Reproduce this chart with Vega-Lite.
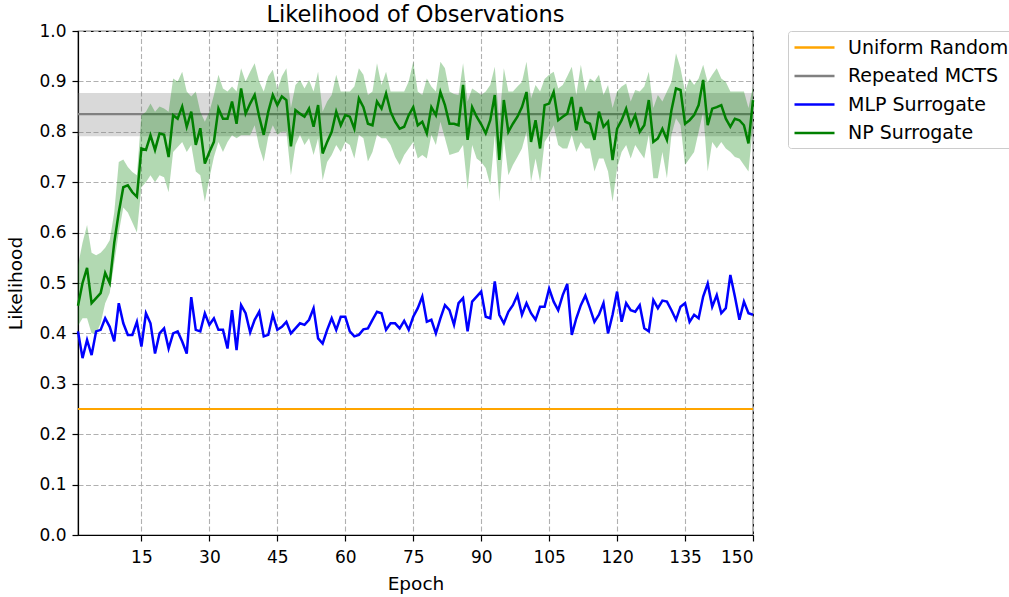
{
  "$schema": "https://vega.github.io/schema/vega-lite/v6.json",
  "width": 675,
  "height": 504,
  "autosize": {"type": "none"},
  "padding": {"left": 78, "top": 31, "right": 256, "bottom": 62},
  "background": "white",
  "title": {"text": "Likelihood of Observations", "fontSize": 22.5, "font": "DejaVu Sans", "fontWeight": "normal", "color": "black", "anchor": "middle", "frame": "group", "baseline": "alphabetic", "offset": 0, "dy": 22.5},
  "config": {
    "font": "DejaVu Sans",
    "view": {"stroke": "black", "strokeWidth": 1.2},
    "axis": {
      "labelFont": "DejaVu Sans", "labelFontSize": 17, "labelColor": "black",
      "titleFont": "DejaVu Sans", "titleFontSize": 18.5, "titleFontWeight": "normal", "titleColor": "black",
      "domainColor": "black", "domainWidth": 1.2, "tickColor": "black", "tickSize": 6, "tickWidth": 1.2,
      "gridColor": "#b0b0b0", "gridDash": [5, 2.5], "gridWidth": 1.1, "gridOpacity": 1
    },
    "legend": {
      "orient": "right", "offset": 35, "padding": 5, "strokeColor": "#cccccc", "cornerRadius": 3, "fillColor": "white",
      "symbolType": "M-1,0H3", "symbolStrokeWidth": 2.5, "symbolSize": 400, "symbolFillColor": "transparent",
      "labelFont": "DejaVu Sans", "labelFontSize": 19, "labelColor": "black", "labelLimit": 400,
      "labelOffset": 32, "rowPadding": 6.5
    }
  },
  "datasets": {
    "baselines": [
      {"name": "Uniform Random", "mean": 0.25},
      {"name": "Repeated MCTS", "mean": 0.835, "lo": 0.791, "hi": 0.877}
    ],
    "epochs": [
      {"epoch":1,"mlp":0.404,"np":0.455,"np_lo":0.415,"np_hi":0.535},
      {"epoch":2,"mlp":0.351,"np":0.50,"np_lo":0.43,"np_hi":0.58},
      {"epoch":3,"mlp":0.387,"np":0.53,"np_lo":0.43,"np_hi":0.615},
      {"epoch":4,"mlp":0.357,"np":0.46,"np_lo":0.40,"np_hi":0.56},
      {"epoch":5,"mlp":0.404,"np":0.47,"np_lo":0.40,"np_hi":0.555},
      {"epoch":6,"mlp":0.407,"np":0.48,"np_lo":0.42,"np_hi":0.56},
      {"epoch":7,"mlp":0.430,"np":0.52,"np_lo":0.46,"np_hi":0.57},
      {"epoch":8,"mlp":0.413,"np":0.50,"np_lo":0.48,"np_hi":0.585},
      {"epoch":9,"mlp":0.384,"np":0.58,"np_lo":0.54,"np_hi":0.64},
      {"epoch":10,"mlp":0.460,"np":0.64,"np_lo":0.60,"np_hi":0.74},
      {"epoch":11,"mlp":0.420,"np":0.69,"np_lo":0.65,"np_hi":0.745},
      {"epoch":12,"mlp":0.397,"np":0.694,"np_lo":0.64,"np_hi":0.73},
      {"epoch":13,"mlp":0.397,"np":0.68,"np_lo":0.62,"np_hi":0.72},
      {"epoch":14,"mlp":0.423,"np":0.671,"np_lo":0.60,"np_hi":0.714},
      {"epoch":15,"mlp":0.374,"np":0.767,"np_lo":0.69,"np_hi":0.833},
      {"epoch":16,"mlp":0.440,"np":0.764,"np_lo":0.70,"np_hi":0.84},
      {"epoch":17,"mlp":0.420,"np":0.793,"np_lo":0.714,"np_hi":0.856},
      {"epoch":18,"mlp":0.360,"np":0.764,"np_lo":0.70,"np_hi":0.84},
      {"epoch":19,"mlp":0.400,"np":0.797,"np_lo":0.714,"np_hi":0.85},
      {"epoch":20,"mlp":0.410,"np":0.794,"np_lo":0.71,"np_hi":0.846},
      {"epoch":21,"mlp":0.370,"np":0.75,"np_lo":0.68,"np_hi":0.84},
      {"epoch":22,"mlp":0.400,"np":0.833,"np_lo":0.76,"np_hi":0.906},
      {"epoch":23,"mlp":0.404,"np":0.826,"np_lo":0.77,"np_hi":0.90},
      {"epoch":24,"mlp":0.384,"np":0.85,"np_lo":0.78,"np_hi":0.919},
      {"epoch":25,"mlp":0.360,"np":0.81,"np_lo":0.76,"np_hi":0.88},
      {"epoch":26,"mlp":0.472,"np":0.84,"np_lo":0.774,"np_hi":0.87},
      {"epoch":27,"mlp":0.407,"np":0.774,"np_lo":0.721,"np_hi":0.88},
      {"epoch":28,"mlp":0.404,"np":0.807,"np_lo":0.714,"np_hi":0.84},
      {"epoch":29,"mlp":0.440,"np":0.737,"np_lo":0.661,"np_hi":0.82},
      {"epoch":30,"mlp":0.417,"np":0.76,"np_lo":0.708,"np_hi":0.84},
      {"epoch":31,"mlp":0.430,"np":0.78,"np_lo":0.75,"np_hi":0.873},
      {"epoch":32,"mlp":0.407,"np":0.846,"np_lo":0.78,"np_hi":0.913},
      {"epoch":33,"mlp":0.407,"np":0.826,"np_lo":0.76,"np_hi":0.886},
      {"epoch":34,"mlp":0.370,"np":0.826,"np_lo":0.78,"np_hi":0.88},
      {"epoch":35,"mlp":0.446,"np":0.86,"np_lo":0.793,"np_hi":0.89},
      {"epoch":36,"mlp":0.367,"np":0.816,"np_lo":0.787,"np_hi":0.88},
      {"epoch":37,"mlp":0.456,"np":0.886,"np_lo":0.793,"np_hi":0.926},
      {"epoch":38,"mlp":0.440,"np":0.836,"np_lo":0.793,"np_hi":0.90},
      {"epoch":39,"mlp":0.402,"np":0.856,"np_lo":0.793,"np_hi":0.919},
      {"epoch":40,"mlp":0.427,"np":0.873,"np_lo":0.813,"np_hi":0.936},
      {"epoch":41,"mlp":0.443,"np":0.83,"np_lo":0.77,"np_hi":0.90},
      {"epoch":42,"mlp":0.394,"np":0.794,"np_lo":0.741,"np_hi":0.880},
      {"epoch":43,"mlp":0.397,"np":0.84,"np_lo":0.79,"np_hi":0.91},
      {"epoch":44,"mlp":0.437,"np":0.873,"np_lo":0.813,"np_hi":0.923},
      {"epoch":45,"mlp":0.407,"np":0.853,"np_lo":0.794,"np_hi":0.883},
      {"epoch":46,"mlp":0.413,"np":0.870,"np_lo":0.800,"np_hi":0.91},
      {"epoch":47,"mlp":0.423,"np":0.863,"np_lo":0.80,"np_hi":0.926},
      {"epoch":48,"mlp":0.400,"np":0.771,"np_lo":0.714,"np_hi":0.847},
      {"epoch":49,"mlp":0.410,"np":0.843,"np_lo":0.774,"np_hi":0.893},
      {"epoch":50,"mlp":0.420,"np":0.836,"np_lo":0.794,"np_hi":0.903},
      {"epoch":51,"mlp":0.417,"np":0.830,"np_lo":0.774,"np_hi":0.886},
      {"epoch":52,"mlp":0.427,"np":0.846,"np_lo":0.787,"np_hi":0.903},
      {"epoch":53,"mlp":0.450,"np":0.81,"np_lo":0.754,"np_hi":0.880},
      {"epoch":54,"mlp":0.390,"np":0.853,"np_lo":0.787,"np_hi":0.919},
      {"epoch":55,"mlp":0.380,"np":0.757,"np_lo":0.704,"np_hi":0.840},
      {"epoch":56,"mlp":0.407,"np":0.78,"np_lo":0.74,"np_hi":0.86},
      {"epoch":57,"mlp":0.430,"np":0.80,"np_lo":0.754,"np_hi":0.873},
      {"epoch":58,"mlp":0.407,"np":0.84,"np_lo":0.774,"np_hi":0.913},
      {"epoch":59,"mlp":0.433,"np":0.813,"np_lo":0.760,"np_hi":0.880},
      {"epoch":60,"mlp":0.433,"np":0.833,"np_lo":0.780,"np_hi":0.880},
      {"epoch":61,"mlp":0.404,"np":0.830,"np_lo":0.774,"np_hi":0.880},
      {"epoch":62,"mlp":0.394,"np":0.806,"np_lo":0.747,"np_hi":0.89},
      {"epoch":63,"mlp":0.397,"np":0.866,"np_lo":0.794,"np_hi":0.926},
      {"epoch":64,"mlp":0.408,"np":0.849,"np_lo":0.787,"np_hi":0.913},
      {"epoch":65,"mlp":0.410,"np":0.816,"np_lo":0.741,"np_hi":0.873},
      {"epoch":66,"mlp":0.427,"np":0.813,"np_lo":0.760,"np_hi":0.880},
      {"epoch":67,"mlp":0.443,"np":0.860,"np_lo":0.794,"np_hi":0.936},
      {"epoch":68,"mlp":0.440,"np":0.846,"np_lo":0.787,"np_hi":0.893},
      {"epoch":69,"mlp":0.407,"np":0.876,"np_lo":0.787,"np_hi":0.919},
      {"epoch":70,"mlp":0.420,"np":0.840,"np_lo":0.774,"np_hi":0.880},
      {"epoch":71,"mlp":0.420,"np":0.82,"np_lo":0.75,"np_hi":0.88},
      {"epoch":72,"mlp":0.410,"np":0.806,"np_lo":0.734,"np_hi":0.880},
      {"epoch":73,"mlp":0.425,"np":0.810,"np_lo":0.754,"np_hi":0.880},
      {"epoch":74,"mlp":0.407,"np":0.833,"np_lo":0.767,"np_hi":0.90},
      {"epoch":75,"mlp":0.433,"np":0.849,"np_lo":0.780,"np_hi":0.939},
      {"epoch":76,"mlp":0.450,"np":0.813,"np_lo":0.747,"np_hi":0.88},
      {"epoch":77,"mlp":0.473,"np":0.820,"np_lo":0.754,"np_hi":0.873},
      {"epoch":78,"mlp":0.423,"np":0.797,"np_lo":0.747,"np_hi":0.906},
      {"epoch":79,"mlp":0.427,"np":0.849,"np_lo":0.794,"np_hi":0.89},
      {"epoch":80,"mlp":0.400,"np":0.833,"np_lo":0.774,"np_hi":0.880},
      {"epoch":81,"mlp":0.430,"np":0.879,"np_lo":0.820,"np_hi":0.939},
      {"epoch":82,"mlp":0.456,"np":0.853,"np_lo":0.787,"np_hi":0.926},
      {"epoch":83,"mlp":0.446,"np":0.816,"np_lo":0.754,"np_hi":0.880},
      {"epoch":84,"mlp":0.417,"np":0.816,"np_lo":0.757,"np_hi":0.875},
      {"epoch":85,"mlp":0.460,"np":0.813,"np_lo":0.760,"np_hi":0.873},
      {"epoch":86,"mlp":0.470,"np":0.893,"np_lo":0.774,"np_hi":0.936},
      {"epoch":87,"mlp":0.404,"np":0.784,"np_lo":0.685,"np_hi":0.860},
      {"epoch":88,"mlp":0.463,"np":0.849,"np_lo":0.774,"np_hi":0.886},
      {"epoch":89,"mlp":0.473,"np":0.830,"np_lo":0.747,"np_hi":0.880},
      {"epoch":90,"mlp":0.483,"np":0.815,"np_lo":0.74,"np_hi":0.873},
      {"epoch":91,"mlp":0.433,"np":0.797,"np_lo":0.728,"np_hi":0.880},
      {"epoch":92,"mlp":0.430,"np":0.823,"np_lo":0.694,"np_hi":0.893},
      {"epoch":93,"mlp":0.503,"np":0.873,"np_lo":0.794,"np_hi":0.929},
      {"epoch":94,"mlp":0.437,"np":0.744,"np_lo":0.661,"np_hi":0.820},
      {"epoch":95,"mlp":0.420,"np":0.863,"np_lo":0.787,"np_hi":0.926},
      {"epoch":96,"mlp":0.443,"np":0.80,"np_lo":0.714,"np_hi":0.880},
      {"epoch":97,"mlp":0.456,"np":0.816,"np_lo":0.734,"np_hi":0.880},
      {"epoch":98,"mlp":0.476,"np":0.83,"np_lo":0.75,"np_hi":0.89},
      {"epoch":99,"mlp":0.437,"np":0.849,"np_lo":0.767,"np_hi":0.899},
      {"epoch":100,"mlp":0.460,"np":0.879,"np_lo":0.800,"np_hi":0.939},
      {"epoch":101,"mlp":0.440,"np":0.780,"np_lo":0.701,"np_hi":0.866},
      {"epoch":102,"mlp":0.427,"np":0.823,"np_lo":0.747,"np_hi":0.893},
      {"epoch":103,"mlp":0.453,"np":0.767,"np_lo":0.701,"np_hi":0.880},
      {"epoch":104,"mlp":0.453,"np":0.853,"np_lo":0.780,"np_hi":0.905},
      {"epoch":105,"mlp":0.489,"np":0.856,"np_lo":0.794,"np_hi":0.913},
      {"epoch":106,"mlp":0.463,"np":0.879,"np_lo":0.813,"np_hi":0.919},
      {"epoch":107,"mlp":0.446,"np":0.823,"np_lo":0.774,"np_hi":0.886},
      {"epoch":108,"mlp":0.476,"np":0.830,"np_lo":0.767,"np_hi":0.893},
      {"epoch":109,"mlp":0.498,"np":0.836,"np_lo":0.767,"np_hi":0.91},
      {"epoch":110,"mlp":0.397,"np":0.869,"np_lo":0.794,"np_hi":0.929},
      {"epoch":111,"mlp":0.430,"np":0.803,"np_lo":0.760,"np_hi":0.873},
      {"epoch":112,"mlp":0.456,"np":0.849,"np_lo":0.780,"np_hi":0.933},
      {"epoch":113,"mlp":0.475,"np":0.820,"np_lo":0.767,"np_hi":0.880},
      {"epoch":114,"mlp":0.450,"np":0.816,"np_lo":0.767,"np_hi":0.906},
      {"epoch":115,"mlp":0.423,"np":0.784,"np_lo":0.721,"np_hi":0.90},
      {"epoch":116,"mlp":0.437,"np":0.840,"np_lo":0.747,"np_hi":0.913},
      {"epoch":117,"mlp":0.460,"np":0.810,"np_lo":0.747,"np_hi":0.873},
      {"epoch":118,"mlp":0.400,"np":0.820,"np_lo":0.721,"np_hi":0.893},
      {"epoch":119,"mlp":0.437,"np":0.744,"np_lo":0.661,"np_hi":0.847},
      {"epoch":120,"mlp":0.483,"np":0.806,"np_lo":0.728,"np_hi":0.880},
      {"epoch":121,"mlp":0.423,"np":0.823,"np_lo":0.760,"np_hi":0.89},
      {"epoch":122,"mlp":0.460,"np":0.846,"np_lo":0.774,"np_hi":0.896},
      {"epoch":123,"mlp":0.446,"np":0.813,"np_lo":0.747,"np_hi":0.860},
      {"epoch":124,"mlp":0.443,"np":0.833,"np_lo":0.774,"np_hi":0.883},
      {"epoch":125,"mlp":0.456,"np":0.80,"np_lo":0.760,"np_hi":0.880},
      {"epoch":126,"mlp":0.410,"np":0.813,"np_lo":0.747,"np_hi":0.89},
      {"epoch":127,"mlp":0.404,"np":0.863,"np_lo":0.794,"np_hi":0.919},
      {"epoch":128,"mlp":0.466,"np":0.780,"np_lo":0.708,"np_hi":0.847},
      {"epoch":129,"mlp":0.450,"np":0.787,"np_lo":0.708,"np_hi":0.873},
      {"epoch":130,"mlp":0.465,"np":0.806,"np_lo":0.760,"np_hi":0.860},
      {"epoch":131,"mlp":0.463,"np":0.784,"np_lo":0.708,"np_hi":0.88},
      {"epoch":132,"mlp":0.446,"np":0.843,"np_lo":0.794,"np_hi":0.899},
      {"epoch":133,"mlp":0.427,"np":0.886,"np_lo":0.827,"np_hi":0.956},
      {"epoch":134,"mlp":0.453,"np":0.883,"np_lo":0.813,"np_hi":0.926},
      {"epoch":135,"mlp":0.460,"np":0.816,"np_lo":0.734,"np_hi":0.880},
      {"epoch":136,"mlp":0.423,"np":0.823,"np_lo":0.747,"np_hi":0.906},
      {"epoch":137,"mlp":0.437,"np":0.833,"np_lo":0.760,"np_hi":0.893},
      {"epoch":138,"mlp":0.430,"np":0.853,"np_lo":0.800,"np_hi":0.906},
      {"epoch":139,"mlp":0.473,"np":0.903,"np_lo":0.840,"np_hi":0.933},
      {"epoch":140,"mlp":0.499,"np":0.813,"np_lo":0.721,"np_hi":0.899},
      {"epoch":141,"mlp":0.453,"np":0.846,"np_lo":0.780,"np_hi":0.913},
      {"epoch":142,"mlp":0.476,"np":0.849,"np_lo":0.767,"np_hi":0.926},
      {"epoch":143,"mlp":0.440,"np":0.853,"np_lo":0.780,"np_hi":0.906},
      {"epoch":144,"mlp":0.450,"np":0.826,"np_lo":0.767,"np_hi":0.899},
      {"epoch":145,"mlp":0.516,"np":0.810,"np_lo":0.760,"np_hi":0.880},
      {"epoch":146,"mlp":0.473,"np":0.826,"np_lo":0.75,"np_hi":0.88},
      {"epoch":147,"mlp":0.427,"np":0.823,"np_lo":0.747,"np_hi":0.880},
      {"epoch":148,"mlp":0.463,"np":0.813,"np_lo":0.734,"np_hi":0.880},
      {"epoch":149,"mlp":0.440,"np":0.777,"np_lo":0.721,"np_hi":0.847},
      {"epoch":150,"mlp":0.437,"np":0.863,"np_lo":0.813,"np_hi":0.89}
    ]
  },
  "layer": [
    {
      "data": {"name": "baselines"},
      "transform": [{"filter": "datum.name === 'Repeated MCTS'"}],
      "mark": {"type": "rect", "color": "#808080", "opacity": 0.3},
      "encoding": {
        "y": {"field": "lo", "type": "quantitative", "scale": {"domain": [0, 1], "nice": false}},
        "y2": {"field": "hi"}
      }
    },
    {
      "data": {"name": "baselines"},
      "mark": {"type": "rule", "strokeWidth": 2.2},
      "encoding": {
        "y": {"field": "mean", "type": "quantitative"},
        "color": {"field": "name", "type": "nominal", "title": null,
          "scale": {"domain": ["Uniform Random", "Repeated MCTS", "MLP Surrogate", "NP Surrogate"], "range": ["#ffa500", "#808080", "#0000ff", "#008000"]}}
      }
    },
    {
      "data": {"name": "epochs"},
      "mark": {"type": "area", "color": "#008000", "opacity": 0.3},
      "encoding": {
        "x": {"field": "epoch", "type": "quantitative"},
        "y": {"field": "np_lo", "type": "quantitative"},
        "y2": {"field": "np_hi"}
      }
    },
    {
      "data": {"name": "epochs"},
      "mark": {"type": "line", "strokeWidth": 2.5},
      "encoding": {
        "x": {"field": "epoch", "type": "quantitative"},
        "y": {"field": "mlp", "type": "quantitative"},
        "color": {"datum": "MLP Surrogate"}
      }
    },
    {
      "data": {"name": "epochs"},
      "mark": {"type": "line", "strokeWidth": 2.5},
      "encoding": {
        "x": {"field": "epoch", "type": "quantitative",
          "scale": {"domain": [1, 150], "nice": false, "zero": false},
          "axis": {"title": "Epoch", "values": [15, 30, 45, 60, 75, 90, 105, 120, 135, 150], "labelPadding": 8, "titlePadding": 9}},
        "y": {"field": "np", "type": "quantitative",
          "axis": {"title": "Likelihood", "values": [0, 0.1, 0.2, 0.3, 0.4, 0.5, 0.6, 0.7, 0.8, 0.9, 1.0], "format": ".1f", "labelPadding": 6, "titlePadding": 13}},
        "color": {"datum": "NP Surrogate"}
      }
    }
  ],
  "resolve": {"scale": {"color": "shared"}}
}
